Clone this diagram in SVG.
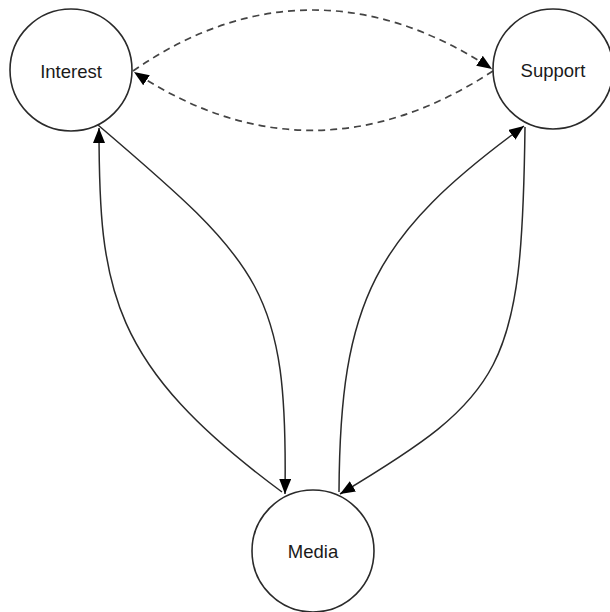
<svg xmlns="http://www.w3.org/2000/svg" width="610" height="612" viewBox="0 0 610 612">
<defs>
<style>
.node circle{fill:#fff;stroke:#2a2a2a;stroke-width:1.6}
.node text{font-family:"Liberation Sans",Arial,sans-serif;font-size:18.5px;fill:#1a1a1a;text-anchor:middle;dominant-baseline:central}
.edge{fill:none;stroke:#2a2a2a;stroke-width:1.5}
.dash{fill:none;stroke:#444;stroke-width:1.7;stroke-dasharray:7 5}
</style>
<marker id="ah" viewBox="0 0 15 12" refX="15" refY="6" markerWidth="15" markerHeight="12" markerUnits="userSpaceOnUse" orient="auto">
<path d="M0,0 L15,6 L0,12 Z" fill="#000"/>
</marker>
</defs>
<rect width="610" height="612" fill="#fff"/>
<g id="connectors">
<path class="dash" d="M133,71 C250,-10 372,-10 492,69" marker-end="url(#ah)"/>
<path class="dash" d="M493,71 C372,150 252,150 134,72" marker-end="url(#ah)"/>
<path class="edge" d="M98,125 C262,265 288,290 285,494" marker-end="url(#ah)"/>
<path class="edge" d="M282,492 C110,365 99,290 99,128" marker-end="url(#ah)"/>
<path class="edge" d="M525,127 C522,370 505,395 340,494" marker-end="url(#ah)"/>
<path class="edge" d="M339,492 C340,300 375,235 524,126" marker-end="url(#ah)"/>
</g>
<g id="interest" class="node">
<circle cx="71" cy="70" r="61"/>
<text x="71" y="71">Interest</text>
</g>
<g id="support" class="node">
<circle cx="553" cy="69" r="60"/>
<text x="553" y="70">Support</text>
</g>
<g id="media" class="node">
<circle cx="313" cy="551" r="61"/>
<text x="313" y="551">Media</text>
</g>
</svg>
